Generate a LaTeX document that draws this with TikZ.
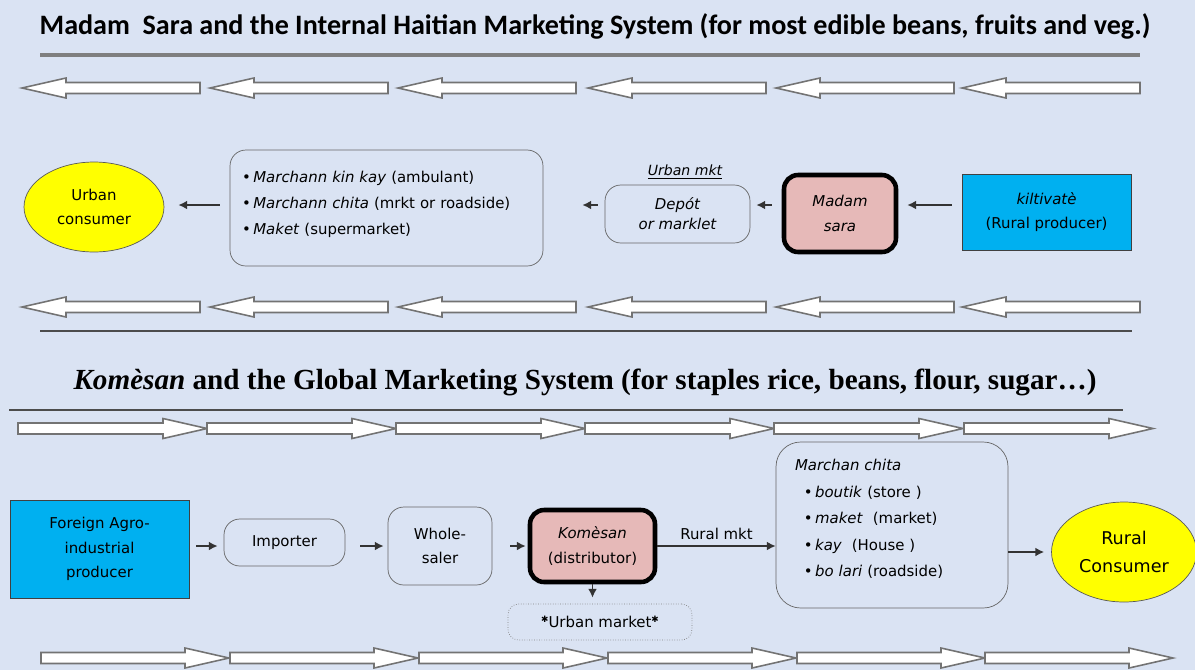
\documentclass[tikz,border=0pt]{standalone}
\usepackage{fontspec}
\setmainfont{DejaVu Sans}
\newfontfamily\calfont{Carlito}
\newfontfamily\timesfont{Liberation Serif}
\usetikzlibrary{arrows.meta,shapes.geometric}
\definecolor{paper}{HTML}{DAE3F3}
\definecolor{rose}{HTML}{E6B9B8}
\definecolor{azure}{HTML}{00B0F0}
\definecolor{lemon}{HTML}{FFFF00}
\definecolor{rulegrey}{HTML}{7F7F7F}
\newcommand{\bul}{\textbullet\,}
\tikzset{
  band/.style={draw=black!55,fill=white,line width=0.9pt},
  rbox/.style={draw=black!60,rounded corners=9pt,align=center,font=\fontsize{8.5}{13}\selectfont,inner sep=2pt},
  agent/.style={draw=black!75,fill=azure,align=center,font=\fontsize{8.5}{14}\selectfont,inner sep=2pt},
  hub/.style={draw=black,line width=2.6pt,fill=rose,rounded corners=8pt,align=center,font=\fontsize{8.5}{14}\selectfont,inner sep=2pt},
  buyer/.style={ellipse,draw=black!65,fill=lemon,align=center,inner sep=1pt},
  flow/.style={-{Latex[length=5pt,width=5pt]},line width=0.9pt,draw=black!80},
}
\begin{document}
\begin{tikzpicture}[x=0.02cm,y=-0.02cm]
  \fill[paper] (0,0) rectangle (1195,670);
  \useasboundingbox (0,0) rectangle (1195,670);
  \node[font=\calfont\bfseries\fontsize{16}{18}\selectfont] (title1) at (595,26) {Madam\ \ Sara and the Internal Haitian Marketing System (for most edible beans, fruits and veg.)};
  \draw[rulegrey,line width=1.8pt] (40,55) -- (1140,55);
  \foreach \x in {22,210,398,588,776,962}
    \foreach \y in {88,307}
      \draw[band] (\x,\y) -- ++(44,-10) -- ++(0,4.5) -- ++(134,0) -- ++(0,11) -- ++(-134,0) -- ++(0,4.5) -- cycle;
  \coordinate (top) at (0,205);
  \node[buyer,minimum width=2.8cm,minimum height=1.8cm,font=\fontsize{8.5}{14}\selectfont] (urban) at (94,207) {Urban\\consumer};
  \node[rbox,align=left,text width=5.78cm,minimum width=6.26cm,minimum height=2.32cm,font=\fontsize{8.5}{14.7}\selectfont] (retail) at (386.5,208) {\bul\textit{Marchann kin kay} (ambulant)\\ \bul\textit{Marchann chita} (mrkt or roadside)\\ \bul\textit{Maket} (supermarket)\\[-9pt]\mbox{}};
  \node[rbox,font=\itshape\fontsize{8.5}{11.5}\selectfont,minimum width=2.9cm,minimum height=1.16cm] (depot) at (677.5,214) {Depót\\or marklet};
  \node[font=\itshape\fontsize{8}{10}\selectfont] (umkt) at (685,172) {\underline{Urban mkt}};
  \node[hub,font=\itshape\fontsize{8.5}{14}\selectfont,minimum width=2.24cm,minimum height=1.54cm] (sara) at (840,213.5) {Madam\\sara};
  \node[agent,minimum width=3.38cm,minimum height=1.52cm] (farmer) at (1046.5,212) {\textit{kiltivatè}\\(Rural producer)};
  \draw[flow,shorten <=0.2cm,shorten >=0.18cm] (farmer.west |- top) -- (sara.east |- top);
  \draw[flow,shorten <=0.2cm,shorten >=0.12cm] (sara.west |- top) -- (depot.east |- top);
  \draw[flow,shorten <=0.14cm,shorten >=0.78cm] (depot.west |- top) -- (retail.east |- top);
  \draw[flow,shorten <=0.2cm,shorten >=0.28cm] (retail.west |- top) -- (urban.east |- top);
  \draw[black!70,line width=1.1pt] (40,331) -- (1132,331);
  \node[font=\timesfont\bfseries\fontsize{16.6}{18}\selectfont] (title2) at (585,382) {\textit{Komèsan} and the Global Marketing System (for staples rice, beans, flour, sugar…)};
  \draw[black!70,line width=1.1pt] (9,410) -- (1123,410);
  \foreach \x in {207,396,585,774,963,1153}
    \draw[band] (\x,428.5) -- ++(-44,-10) -- ++(0,4.5) -- ++(-145,0) -- ++(0,11) -- ++(145,0) -- ++(0,4.5) -- cycle;
  \foreach \x in {229,418,607,796,985,1173}
    \draw[band] (\x,658) -- ++(-44,-10) -- ++(0,4.5) -- ++(-144,0) -- ++(0,11) -- ++(144,0) -- ++(0,4.5) -- cycle;
  \coordinate (low) at (0,546);
  \node[agent,minimum width=3.58cm,minimum height=1.96cm] (foreign) at (99.5,549) {Foreign Agro-\\industrial\\producer};
  \node[rbox,minimum width=2.42cm,minimum height=0.94cm] (importer) at (284.5,542.5) {Importer};
  \node[rbox,minimum width=2.08cm,minimum height=1.56cm,font=\fontsize{8.5}{14}\selectfont] (whole) at (440,546) {Whole-\\saler};
  \node[hub,minimum width=2.5cm,minimum height=1.44cm] (komesan) at (592.5,546) {\textit{Komèsan}\\(distributor)};
  \node[rbox,align=left,text width=3.88cm,rounded corners=14pt,minimum width=4.64cm,minimum height=3.32cm,font=\fontsize{8.5}{15}\selectfont] (chita) at (892,525) {\textit{Marchan chita}\\ \hspace{5pt}\bul\textit{boutik} (store )\\ \hspace{5pt}\bul\textit{maket}\ \ (market)\\ \hspace{5pt}\bul\textit{kay}\ \ (House )\\ \hspace{5pt}\bul\textit{bo lari} (roadside)\\[-7pt]\mbox{}};
  \node[buyer,minimum width=2.9cm,minimum height=2.0cm,font=\fontsize{10}{16}\selectfont] (rural) at (1124,552) {Rural\\Consumer};
  \node[draw=black!50,densely dotted,rounded corners=6pt,minimum width=3.68cm,minimum height=0.72cm,font=\fontsize{8.5}{10}\selectfont] (urbmkt) at (600,622) {\raisebox{3pt}{\tiny ✱}Urban market\raisebox{3pt}{\tiny ✱}};
  \draw[flow,shorten <=0.14cm,shorten >=0.12cm] (foreign.east |- low) -- (importer.west |- low);
  \draw[flow,shorten <=0.3cm,shorten >=0.08cm] (importer.east |- low) -- (whole.west |- low);
  \draw[flow,shorten <=0.36cm,shorten >=0.04cm] (whole.east |- low) -- (komesan.west |- low);
  \draw[flow] (komesan.east) -- node[above,font=\fontsize{8.5}{10}\selectfont] (rmkt) {Rural mkt} (chita.west |- komesan.east);
  \draw[flow,shorten >=0.12cm] (komesan.south) -- (urbmkt.north -| komesan.south);
  \draw[flow,shorten >=0.14cm] (chita.east |- rural) -- (rural.west);
\end{tikzpicture}
\end{document}
